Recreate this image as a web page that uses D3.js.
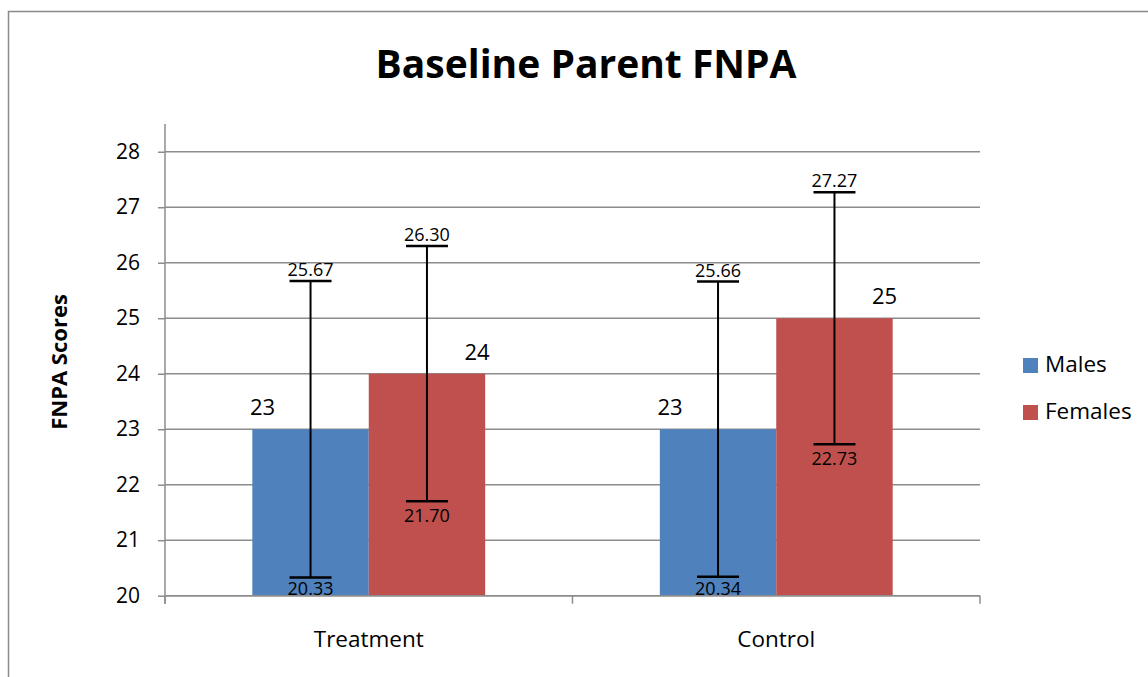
<!DOCTYPE html>
<html><head><meta charset="utf-8">
<script src="https://cdn.jsdelivr.net/npm/d3@7"></script>
<style>body{margin:0;background:#fff}svg{display:block}text{font-family:"Open Sans",sans-serif}</style>
</head><body>
<svg id="c" width="1148" height="677"></svg>
<script>
const categories = ["Treatment", "Control"];
const seriesNames = ["Males", "Females"];
const males = [23, 23];
const females = [24, 25];
const malesLow = [20.33, 20.34];
const malesHigh = [25.67, 25.66];
const femalesLow = [21.70, 22.73];
const femalesHigh = [26.30, 27.27];
const yTicks = [20, 21, 22, 23, 24, 25, 26, 27, 28];
const colors = ["#4F81BD", "#C0504D"];

const svg = d3.select("#c");
svg.append("rect").attr("x", 8.5).attr("y", 11.5).attr("width", 1160).attr("height", 700)
  .attr("fill", "#fff").attr("stroke", "#8a8a8a").attr("stroke-width", 1.5);

const L = 165, R = 980;
const y = d3.scaleLinear().domain([20, 28.5]).range([595.7, 124.0]);
const x0 = d3.scaleBand().domain(categories).range([L, R]).paddingInner(0).paddingOuter(0);
const x1 = d3.scaleBand().domain(seriesNames).range([0, x0.bandwidth()]).paddingInner(0).paddingOuter(0.75);

const data = categories.map((c, i) => ({
  cat: c,
  vals: [
    {s: "Males", v: males[i], lo: malesLow[i], hi: malesHigh[i], c: colors[0], off: -48},
    {s: "Females", v: females[i], lo: femalesLow[i], hi: femalesHigh[i], c: colors[1], off: 50}
  ]
}));

// gridlines
svg.append("g").selectAll("line").data(yTicks).join("line")
  .attr("x1", L).attr("x2", R).attr("y1", d => y(d)).attr("y2", d => y(d))
  .attr("stroke", "#8c8c8c").attr("stroke-width", 1.5);

// bars
const g = svg.append("g").selectAll("g").data(data).join("g")
  .attr("transform", d => `translate(${x0(d.cat)},0)`);
g.selectAll("rect").data(d => d.vals).join("rect")
  .attr("x", d => x1(d.s)).attr("width", x1.bandwidth())
  .attr("y", d => y(d.v)).attr("height", d => y(20) - y(d.v))
  .attr("fill", d => d.c);

// y axis
const yAxis = d3.axisLeft(y).tickValues(yTicks).tickSize(7).tickPadding(18).tickFormat(d3.format("d"));
const ya = svg.append("g").attr("transform", `translate(${L},0)`).call(yAxis);
ya.select(".domain").attr("stroke", "#8c8c8c").attr("stroke-width", 1.5).attr("d", `M0,${y(28.5)}V${y(20)+8}`);
ya.selectAll(".tick line").attr("stroke", "#8c8c8c").attr("stroke-width", 1.5);
ya.selectAll(".tick text").attr("font-size", 21).attr("fill", "#000").attr("font-family", "Open Sans");

// x axis
const xa = svg.append("g").attr("transform", `translate(0,${y(20)})`);
xa.append("line").attr("x1", L).attr("x2", R).attr("stroke", "#8c8c8c").attr("stroke-width", 1.5);
const xTickPos = [L, ...categories.map(c => x0(c) + x0.bandwidth())];
xa.selectAll(".xt").data(xTickPos).join("line").attr("class", "xt")
  .attr("x1", d => d).attr("x2", d => d).attr("y1", 0).attr("y2", 8)
  .attr("stroke", "#8c8c8c").attr("stroke-width", 1.5);
xa.selectAll("text").data(categories).join("text")
  .attr("x", d => x0(d) + x0.bandwidth() / 2).attr("y", 51)
  .attr("text-anchor", "middle").attr("font-size", 22.5).text(d => d);

// value labels
g.selectAll(".vl").data(d => d.vals).join("text").attr("class", "vl")
  .attr("x", d => x1(d.s) + x1.bandwidth() / 2 + d.off).attr("y", d => y(d.v) - 14)
  .attr("text-anchor", "middle").attr("font-size", 22).text(d => d.v);

// error bars
const eb = g.selectAll(".eb").data(d => d.vals).join("g").attr("class", "eb")
  .attr("transform", d => `translate(${x1(d.s) + x1.bandwidth() / 2},0)`);
eb.append("line").attr("y1", d => y(d.lo)).attr("y2", d => y(d.hi)).attr("stroke", "#000").attr("stroke-width", 2);
eb.append("line").attr("x1", -21).attr("x2", 21).attr("y1", d => y(d.hi)).attr("y2", d => y(d.hi)).attr("stroke", "#000").attr("stroke-width", 2.5);
eb.append("line").attr("x1", -21).attr("x2", 21).attr("y1", d => y(d.lo)).attr("y2", d => y(d.lo)).attr("stroke", "#000").attr("stroke-width", 2.5);
eb.append("text").attr("y", d => y(d.hi) - 5).attr("text-anchor", "middle").attr("font-size", 18).text(d => d.hi.toFixed(2));
eb.append("text").attr("y", d => Math.min(y(d.lo) + 21, y(20) - 0.5)).attr("text-anchor", "middle").attr("font-size", 18).text(d => d.lo.toFixed(2));

// title
svg.append("text").attr("x", 586).attr("y", 78).attr("text-anchor", "middle")
  .attr("font-size", 39).attr("font-weight", "bold").text("Baseline Parent FNPA");

// y title
svg.append("text").attr("transform", "translate(67,362) rotate(-90)").attr("text-anchor", "middle")
  .attr("font-size", 22).attr("font-weight", "bold").text("FNPA Scores");

// legend
const lg = svg.append("g").selectAll("g").data(seriesNames).join("g")
  .attr("transform", (d, i) => `translate(1023,${358 + i * 47})`);
lg.append("rect").attr("width", 15).attr("height", 15).attr("fill", (d, i) => colors[i]);
lg.append("text").attr("x", 22).attr("y", 14).attr("font-size", 22.5).text(d => d);
</script>
</body></html>
